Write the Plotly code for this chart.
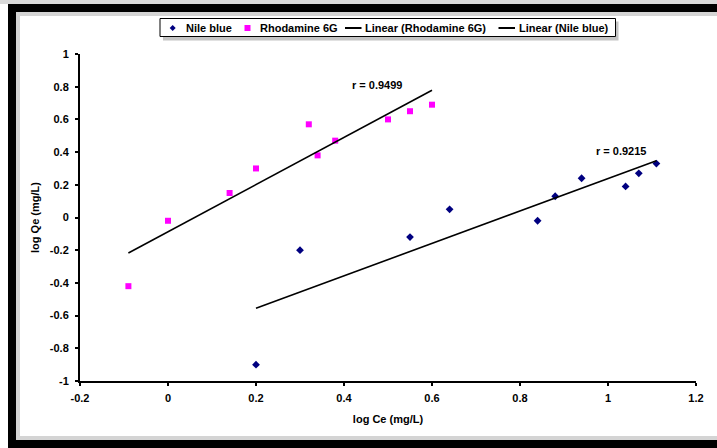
import numpy as np
import plotly.graph_objects as go

# ---------------- data ----------------
nile_x = [0.20, 0.30, 0.55, 0.64, 0.84, 0.88, 0.94, 1.04, 1.07, 1.11]
nile_y = [-0.90, -0.20, -0.12, 0.05, -0.02, 0.13, 0.24, 0.19, 0.27, 0.33]

rhod_x = [-0.09, 0.00, 0.14, 0.20, 0.32, 0.34, 0.38, 0.50, 0.55, 0.60]
rhod_y = [-0.42, -0.02, 0.15, 0.30, 0.57, 0.38, 0.47, 0.60, 0.65, 0.69]

series_names = ["Nile blue", "Rhodamine 6G", "Linear (Rhodamine 6G)", "Linear (Nile blue)"]
r_labels = ["r = 0.9499", "r = 0.9215"]

x_tickvals = [-0.2, 0, 0.2, 0.4, 0.6, 0.8, 1, 1.2]
x_ticktext = ["-0.2", "0", "0.2", "0.4", "0.6", "0.8", "1", "1.2"]
y_tickvals = [-1, -0.8, -0.6, -0.4, -0.2, 0, 0.2, 0.4, 0.6, 0.8, 1]
y_ticktext = ["-1", "-0.8", "-0.6", "-0.4", "-0.2", "0", "0.2", "0.4", "0.6", "0.8", "1"]

x_title = "log Ce (mg/L)"
y_title = "log Qe (mg/L)"

NAVY = "#000080"
MAGENTA = "#FF00FF"

# ---------------- layout geometry ----------------
W, H = 717, 448
L, R, T, B = 80, 696, 54, 381


def px2x(px):
    return (px - L) / (R - L)


def py2y(py):
    return (B - py) / (B - T)


FONT = "Liberation Sans, Arial, sans-serif"
BOLD11 = dict(family=FONT, size=11, color="black", weight="bold")


def fit_line(x, y):
    x = np.asarray(x)
    y = np.asarray(y)
    m, c = np.polyfit(x, y, 1)
    xs = np.array([x.min(), x.max()])
    return xs, m * xs + c


fig = go.Figure()

fig.add_trace(go.Scatter(
    x=nile_x, y=nile_y, mode="markers", name=series_names[0],
    marker=dict(symbol="diamond", size=6, color=NAVY),
))
fig.add_trace(go.Scatter(
    x=rhod_x, y=rhod_y, mode="markers", name=series_names[1],
    marker=dict(symbol="square", size=6, color=MAGENTA),
))
rx, ry = fit_line(rhod_x, rhod_y)
fig.add_trace(go.Scatter(
    x=rx, y=ry, mode="lines", name=series_names[2],
    line=dict(color="black", width=1.6),
))
nx, ny = fit_line(nile_x, nile_y)
fig.add_trace(go.Scatter(
    x=nx, y=ny, mode="lines", name=series_names[3],
    line=dict(color="black", width=1.6),
))

axis_common = dict(
    showgrid=False, zeroline=False, showline=True, linecolor="black", linewidth=2,
    ticks="outside", ticklen=3, tickwidth=2, tickcolor="black",
    tickfont=BOLD11, mirror=False, automargin=False,
)

fig.update_xaxes(range=[-0.2, 1.2], tickvals=x_tickvals, ticktext=x_ticktext,
                 ticklabelstandoff=3,
                 title=dict(text=x_title, font=BOLD11, standoff=12),
                 **axis_common)
fig.update_yaxes(range=[-1, 1], tickvals=y_tickvals, ticktext=y_ticktext,
                 ticklabelstandoff=4,
                 title=dict(text=y_title, font=BOLD11, standoff=8),
                 **axis_common)

shapes = [
    # light top strip
    dict(type="rect", xref="paper", yref="paper", x0=px2x(-5), x1=px2x(730),
         y0=py2y(0), y1=py2y(4), fillcolor="#d9d9d9", line=dict(width=0), layer="below"),
    # soft inner shadow of the frame
    dict(type="rect", xref="paper", yref="paper", x0=px2x(18), x1=px2x(740),
         y0=py2y(14), y1=py2y(438), fillcolor="rgba(0,0,0,0)",
         line=dict(color="#d4d4d4", width=4), layer="below"),
    # thick black frame
    dict(type="rect", xref="paper", yref="paper", x0=px2x(12), x1=px2x(740),
         y0=py2y(8), y1=py2y(444), fillcolor="rgba(0,0,0,0)",
         line=dict(color="black", width=8), layer="above"),
]

# ---------------- legend box (drawn like the spreadsheet legend) ----------------
LEG_L, LEG_R, LEG_T, LEG_B = 160, 615.5, 18.5, 36.5
LEG_CY = 28
shapes += [
    dict(type="rect", xref="paper", yref="paper", x0=px2x(LEG_L + 3), x1=px2x(LEG_R + 3),
         y0=py2y(LEG_T + 3), y1=py2y(LEG_B + 4), fillcolor="#c4c4c4",
         line=dict(width=0), layer="above"),
    dict(type="rect", xref="paper", yref="paper", x0=px2x(LEG_L), x1=px2x(LEG_R),
         y0=py2y(LEG_T), y1=py2y(LEG_B), fillcolor="white",
         line=dict(color="black", width=1), layer="above"),
]


def diamond_path(cx, cy, r):
    pts = [(cx, cy - r), (cx + r, cy), (cx, cy + r), (cx - r, cy)]
    return "M " + " L ".join(f"{px2x(a)},{py2y(b)}" for a, b in pts) + " Z"


shapes += [
    dict(type="path", xref="paper", yref="paper", path=diamond_path(172.7, LEG_CY, 3),
         fillcolor=NAVY, line=dict(width=0), layer="above"),
    dict(type="rect", xref="paper", yref="paper", x0=px2x(244.5), x1=px2x(250.5),
         y0=py2y(LEG_CY - 3), y1=py2y(LEG_CY + 3), fillcolor=MAGENTA,
         line=dict(width=0), layer="above"),
    dict(type="line", xref="paper", yref="paper", x0=px2x(345), x1=px2x(361.5),
         y0=py2y(LEG_CY), y1=py2y(LEG_CY), line=dict(color="black", width=2), layer="above"),
    dict(type="line", xref="paper", yref="paper", x0=px2x(498.5), x1=px2x(515),
         y0=py2y(LEG_CY), y1=py2y(LEG_CY), line=dict(color="black", width=2), layer="above"),
]

legend_text_x = [184, 258, 363, 517]

annotations = [
    dict(x=px2x(tx), y=py2y(LEG_CY), xref="paper", yref="paper", text=name,
         xanchor="left", yanchor="middle", showarrow=False, font=BOLD11)
    for tx, name in zip(legend_text_x, series_names)
]

annotations += [
    dict(x=0.475, y=0.81, xref="x", yref="y", text=r_labels[0], showarrow=False, font=BOLD11),
    dict(x=1.03, y=0.405, xref="x", yref="y", text=r_labels[1], showarrow=False, font=BOLD11),
]

fig.update_layout(
    width=W, height=H,
    margin=dict(l=L, r=W - R, t=T, b=H - B, pad=0, autoexpand=False),
    paper_bgcolor="white", plot_bgcolor="white",
    font=dict(family=FONT, size=11, color="black"),
    shapes=shapes, annotations=annotations,
    showlegend=False,
)

# place the figure at the page origin (no default body margin), no mode bar
fig.write_html("out.html", config={"displayModeBar": False},
               post_script="document.body.style.margin='0';")
